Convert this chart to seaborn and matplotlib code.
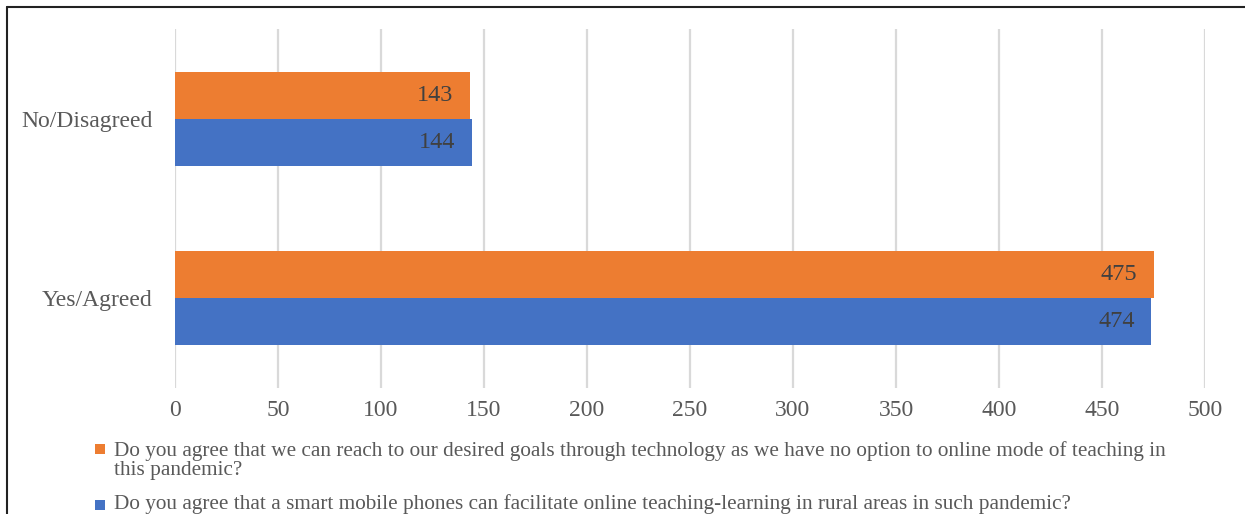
import matplotlib
matplotlib.use("Agg")
import matplotlib.pyplot as plt
import seaborn as sns
import pandas as pd
from matplotlib.patches import Rectangle
from matplotlib.lines import Line2D

# Survey responses
categories = ["No/Disagreed", "Yes/Agreed"]
series_names = [
    "Do you agree that we can reach to our desired goals through technology as we have no option to online mode of teaching in\nthis pandemic?",
    "Do you agree that a smart mobile phones can facilitate online teaching-learning in rural areas in such pandemic?",
]
goals_values = [143, 475]
mobile_values = [144, 474]
x_ticks = [0, 50, 100, 150, 200, 250, 300, 350, 400, 450, 500]
colors = ["#ED7D31", "#4472C4"]

df = pd.DataFrame({
    "category": categories * 2,
    "series": [series_names[0]] * 2 + [series_names[1]] * 2,
    "value": goals_values + mobile_values,
})

sns.set_theme(style="white")
plt.rcParams["font.family"] = ["Liberation Serif", "DejaVu Serif"]

W, H = 1245, 514
fig = plt.figure(figsize=(W / 100, H / 100), dpi=100)
ax = fig.add_axes([175 / W, 1 - 388 / H, 1030 / W, 359 / H])

sns.barplot(data=df, x="value", y="category", hue="series", order=categories,
            hue_order=series_names, palette=colors, orient="h", width=0.525,
            saturation=1, legend=False, linewidth=0, ax=ax)

# value labels inside the bar ends
for container in ax.containers:
    for bar in container:
        w = bar.get_width()
        ax.annotate(f"{w:.0f}", xy=(w, bar.get_y() + bar.get_height() / 2),
                    xytext=(-12, 0), textcoords="offset points",
                    ha="right", va="center", fontsize=17.5, color="#404040")

ax.set_xlim(0, 500)
ax.set_ylim(1.5, -0.5)
ax.set_xticks(x_ticks)
ax.set_xticklabels([str(t) for t in x_ticks])
ax.xaxis.grid(True, color="#d9d9d9", linewidth=1.6)
ax.set_axisbelow(True)
for s in ax.spines.values():
    s.set_visible(False)
ax.tick_params(axis="x", length=0, pad=9, labelsize=17, labelcolor="#595959")
ax.tick_params(axis="y", length=0, pad=16, labelsize=17, labelcolor="#595959")
ax.set_xlabel("")
ax.set_ylabel("")

# legend below the axis: (square top, last-line baseline) in pixels
legend_rows = [(444, 475), (500, 509)]
for (sq_top, base), name, col in zip(legend_rows, series_names, colors):
    fig.patches.append(Rectangle((95 / W, 1 - (sq_top + 9.5) / H), 10 / W, 9.5 / H,
                                 transform=fig.transFigure, facecolor=col,
                                 edgecolor="none"))
    fig.text(114 / W, 1 - base / H, name, ha="left", va="baseline",
             fontsize=15.3, color="#595959", linespacing=0.98)

# frame lines along the top and left edges
fig.add_artist(Line2D([7 / W, 1], [1 - 7 / H, 1 - 7 / H],
                      transform=fig.transFigure, color="#222222", linewidth=1.5))
fig.add_artist(Line2D([7 / W, 7 / W], [0, 1 - 7 / H],
                      transform=fig.transFigure, color="#222222", linewidth=1.5))

fig.savefig("out.png", dpi=100)
